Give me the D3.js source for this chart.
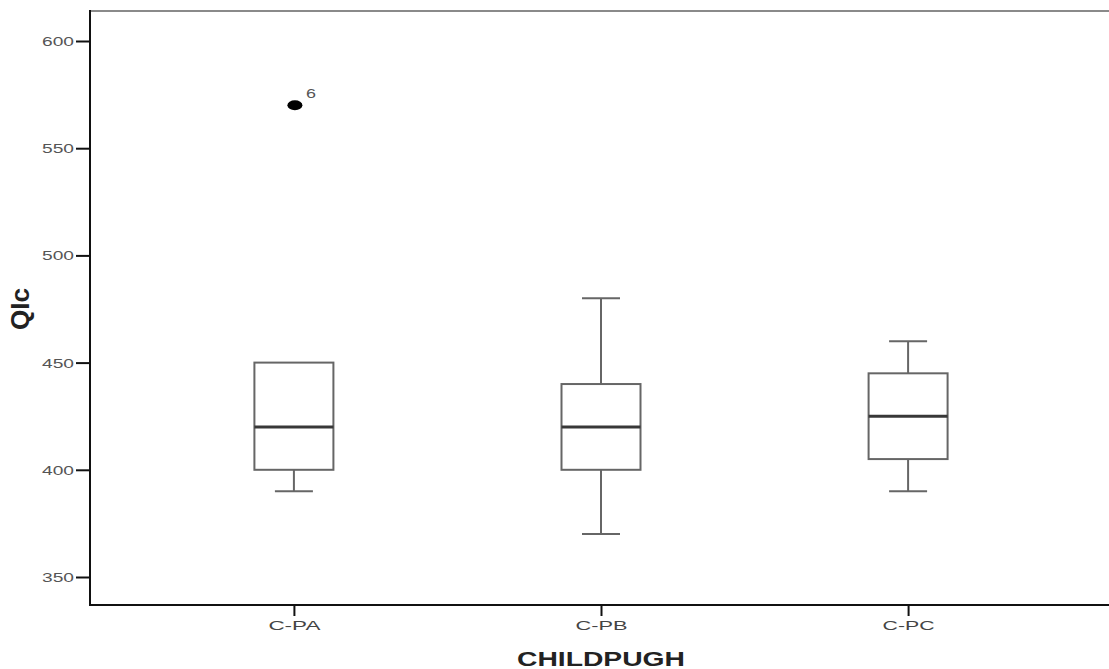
<!DOCTYPE html>
<html><head><meta charset="utf-8">
<script src="https://cdn.jsdelivr.net/npm/d3@7/dist/d3.min.js"></script>
<style>body{margin:0;background:#fff}svg{display:block}</style>
</head><body>
<svg id="c" width="1109" height="669"></svg>
<script>
const categories = ["C-PA","C-PB","C-PC"];
const whiskerLow = [390,370,390];
const q1 = [400,400,405];
const median = [420,420,425];
const q3 = [450,440,445];
const whiskerHigh = [450,480,460];
const outlierCats = ["C-PA"];
const outlierValues = [570];
const outlierLabels = ["6"];
const yTicks = [350,400,450,500,550,600];

(function(){
const svg = d3.select("#c");
const pLeft = 90, pTop = 11, pBottom = 605, pRight = 1109;
const font = "'Liberation Sans', Arial, sans-serif";

const y = d3.scaleLinear().domain([350,600]).range([577,41]);
const x = d3.scalePoint().domain(categories).range([90,1112]).padding(0.664);

// top border
svg.append("line").attr("x1",pLeft).attr("x2",pRight).attr("y1",pTop).attr("y2",pTop)
  .attr("stroke","#8a8a8a").attr("stroke-width",2);

// y axis
const ya = svg.append("g").attr("transform",`translate(${pLeft},0)`)
  .call(d3.axisLeft(y).tickValues(yTicks).tickSize(14).tickPadding(2));
ya.select(".domain").remove();
ya.selectAll(".tick line").attr("stroke","#111").attr("stroke-width",2);
ya.selectAll(".tick text").attr("fill","#555").attr("font-family",font).attr("font-size",13)
  .attr("textLength",32).attr("lengthAdjust","spacingAndGlyphs").attr("dy","0.35em");
svg.append("line").attr("x1",pLeft).attr("x2",pLeft).attr("y1",pTop-1).attr("y2",pBottom+1)
  .attr("stroke","#111").attr("stroke-width",2);

// x axis
const xa = svg.append("g").attr("transform",`translate(0,${pBottom})`)
  .call(d3.axisBottom(x).tickSize(11).tickPadding(5));
xa.select(".domain").remove();
xa.selectAll(".tick line").attr("stroke","#111").attr("stroke-width",2);
xa.selectAll(".tick text").attr("fill","#444").attr("font-family",font).attr("font-size",13)
  .attr("textLength",52).attr("lengthAdjust","spacingAndGlyphs");
svg.append("line").attr("x1",pLeft).attr("x2",pRight).attr("y1",pBottom).attr("y2",pBottom)
  .attr("stroke","#111").attr("stroke-width",2);

// axis titles
svg.append("text").attr("x",x("C-PB")).attr("y",666).attr("text-anchor","middle")
  .attr("font-family",font).attr("font-weight","bold").attr("font-size",20).attr("fill","#222")
  .attr("textLength",168).attr("lengthAdjust","spacingAndGlyphs").text("CHILDPUGH");
svg.append("text").attr("transform","translate(29,309) scale(1.33,1) rotate(-90)")
  .attr("text-anchor","middle").attr("font-family",font).attr("font-weight","bold")
  .attr("font-size",20).attr("fill","#222").attr("textLength",42).attr("lengthAdjust","spacingAndGlyphs")
  .text("QIc");

// boxes
const boxW = 79, capW = 38;
const boxColor = "#666";
categories.forEach((c,i)=>{
  const cx = x(c);
  const g = svg.append("g");
  if (whiskerHigh[i] > q3[i]) {
    g.append("line").attr("x1",cx).attr("x2",cx).attr("y1",y(q3[i])).attr("y2",y(whiskerHigh[i]))
      .attr("stroke",boxColor).attr("stroke-width",2);
    g.append("line").attr("x1",cx-capW/2).attr("x2",cx+capW/2).attr("y1",y(whiskerHigh[i])).attr("y2",y(whiskerHigh[i]))
      .attr("stroke",boxColor).attr("stroke-width",2);
  }
  if (whiskerLow[i] < q1[i]) {
    g.append("line").attr("x1",cx).attr("x2",cx).attr("y1",y(q1[i])).attr("y2",y(whiskerLow[i]))
      .attr("stroke",boxColor).attr("stroke-width",2);
    g.append("line").attr("x1",cx-capW/2).attr("x2",cx+capW/2).attr("y1",y(whiskerLow[i])).attr("y2",y(whiskerLow[i]))
      .attr("stroke",boxColor).attr("stroke-width",2);
  }
  g.append("rect").attr("x",cx-boxW/2).attr("width",boxW)
    .attr("y",y(q3[i])).attr("height",y(q1[i])-y(q3[i]))
    .attr("fill","#fff").attr("stroke",boxColor).attr("stroke-width",2);
  g.append("line").attr("x1",cx-boxW/2).attr("x2",cx+boxW/2).attr("y1",y(median[i])).attr("y2",y(median[i]))
    .attr("stroke","#383838").attr("stroke-width",3);
});

// outliers
outlierCats.forEach((c,i)=>{
  svg.append("ellipse").attr("cx",x(c)+1).attr("cy",y(outlierValues[i])).attr("rx",7.5).attr("ry",5)
    .attr("fill","#000");
  svg.append("text").attr("x",x(c)+12).attr("y",y(outlierValues[i])-7)
    .attr("font-family",font).attr("font-size",12).attr("fill","#555")
    .attr("textLength",10).attr("lengthAdjust","spacingAndGlyphs").text(outlierLabels[i]);
});
})();
</script>
</body></html>
